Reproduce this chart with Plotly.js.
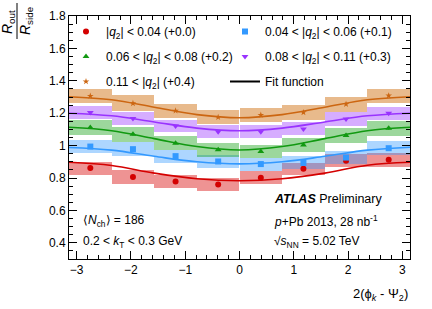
<!DOCTYPE html>
<html>
<head>
<meta charset="utf-8">
<script src="https://cdn.plot.ly/plotly-3.0.1.min.js"></script>
<style>html,body{margin:0;padding:0;background:#fff;}#chart{width:432px;height:309px;}</style>
</head>
<body>
<div id="chart"></div>
<script>
// bin centres of 2(phi_k - Psi_2) (8 bins over [-pi, pi])
const binCenters = [-2.749, -1.963, -1.178, -0.393, 0.393, 1.178, 1.963, 2.749];
const binWidth = 0.785;
// positions where the fit curves were read
const fitX = [-3.1416, -2.356, -1.571, -0.785, 0, 0.785, 1.571, 2.356, 3.1416];

const Q = "|<i>q</i><sub>2</sub>|";
const seriesNames = [
  Q + " < 0.04 (+0.0)",
  "0.04 < " + Q + " < 0.06 (+0.1)",
  "0.06 < " + Q + " < 0.08 (+0.2)",
  "0.08 < " + Q + " < 0.11 (+0.3)",
  "0.11 < " + Q + " (+0.4)"
];
const fitName = "Fit function";

// measured R_out/R_side (with offsets applied)
const valRed    = [0.861, 0.806, 0.779, 0.760, 0.801, 0.857, 0.906, 0.912];
const valBlue   = [0.994, 0.978, 0.935, 0.902, 0.886, 0.893, 0.926, 0.984];
const valGreen  = [1.111, 1.070, 1.015, 0.974, 0.963, 1.004, 1.062, 1.107];
const valPurple = [1.205, 1.168, 1.121, 1.086, 1.086, 1.103, 1.164, 1.199];
const valOrange = [1.306, 1.261, 1.215, 1.175, 1.189, 1.205, 1.256, 1.308];

// statistical errors
const statRed    = [0.014, 0.012, 0.011, 0.011, 0.011, 0.012, 0.013, 0.014];
const statBlue   = [0.009, 0.008, 0.008, 0.008, 0.008, 0.008, 0.008, 0.009];
const statGreen  = [0.007, 0.007, 0.006, 0.006, 0.006, 0.006, 0.007, 0.007];
const statPurple = [0.006, 0.006, 0.006, 0.006, 0.006, 0.006, 0.006, 0.006];
const statOrange = [0.005, 0.005, 0.005, 0.005, 0.005, 0.005, 0.005, 0.005];

// systematic uncertainties (boxes)
const sysRed    = [0.040, 0.044, 0.041, 0.040, 0.040, 0.038, 0.040, 0.042];
const sysBlue   = [0.042, 0.042, 0.040, 0.040, 0.040, 0.040, 0.040, 0.042];
const sysGreen  = [0.046, 0.046, 0.044, 0.042, 0.042, 0.044, 0.046, 0.046];
const sysPurple = [0.042, 0.042, 0.040, 0.040, 0.040, 0.040, 0.042, 0.042];
const sysOrange = [0.044, 0.050, 0.044, 0.042, 0.042, 0.044, 0.046, 0.044];

// fit curves
const fitRed    = [0.897, 0.877, 0.830, 0.795, 0.783, 0.795, 0.830, 0.879, 0.897];
const fitBlue   = [0.988, 0.972, 0.934, 0.900, 0.887, 0.900, 0.934, 0.972, 0.990];
const fitGreen  = [1.113, 1.092, 1.043, 0.994, 0.973, 0.994, 1.043, 1.092, 1.113];
const fitPurple = [1.200, 1.184, 1.146, 1.108, 1.092, 1.108, 1.146, 1.184, 1.200];
const fitOrange = [1.302, 1.283, 1.237, 1.191, 1.172, 1.191, 1.237, 1.283, 1.302];

const values = [valRed, valBlue, valGreen, valPurple, valOrange];
const stats  = [statRed, statBlue, statGreen, statPurple, statOrange];
const syss   = [sysRed, sysBlue, sysGreen, sysPurple, sysOrange];
const fits   = [fitRed, fitBlue, fitGreen, fitPurple, fitOrange];

const lineColors = ["#d40000", "#3399ff", "#119911", "#9933ff", "#cc6611"];
const bandColors = ["rgba(220,30,30,0.48)", "rgba(51,153,255,0.40)", "rgba(20,160,20,0.42)",
                    "rgba(153,51,255,0.40)", "rgba(204,102,0,0.45)"];
const symbols = ["circle", "square", "triangle-up", "triangle-down", "star"];
const sizes = [6, 6, 6, 6, 5];
const legendCol = ["legend", "legend2", "legend", "legend2", "legend"];

const FONT = "Liberation Sans, Arial, Helvetica, sans-serif";
const traces = [];

// systematic boxes
for (let s = 0; s < 5; s++) {
  traces.push({
    type: "bar", x: binCenters,
    y: syss[s].map(v => 2 * v),
    base: values[s].map((v, i) => v - syss[s][i]),
    width: binWidth,
    marker: {color: bandColors[s], line: {width: 0}},
    showlegend: false, hoverinfo: "skip"
  });
}
// fit curves
for (let s = 0; s < 5; s++) {
  traces.push({
    type: "scatter", mode: "lines", x: fitX, y: fits[s],
    line: {color: lineColors[s], width: 1.6, shape: "spline", smoothing: 1},
    showlegend: false, hoverinfo: "skip"
  });
}
// data points
for (let s = 0; s < 5; s++) {
  traces.push({
    type: "scatter", mode: "markers", x: binCenters, y: values[s],
    name: seriesNames[s], legend: legendCol[s], legendgroup: "g" + s,
    marker: {color: lineColors[s], symbol: symbols[s], size: sizes[s], line: {width: 0}},
    error_y: {type: "data", array: stats[s], visible: true, color: lineColors[s], thickness: 1.2, width: 0}
  });
}
// legend entry for fit function
traces.push({
  type: "scatter", mode: "lines", x: [null], y: [null], name: fitName,
  legend: "legend2", legendgroup: "gfit",
  line: {color: "black", width: 2}
});

const W = 432, H = 309, L = 69, R = 22, T = 16, B = 50;
const pw = W - L - R, ph = H - T - B;
const px = x => (x - L) / pw;
const py = y => (H - B - y) / ph;

const legendBase = {
  orientation: "v", xanchor: "left", yanchor: "top",
  bgcolor: "rgba(0,0,0,0)", font: {family: FONT, size: 12, color: "black"},
  traceorder: "grouped", tracegroupgap: 6, itemwidth: 30
};

const layout = {
  width: W, height: H,
  margin: {l: L, r: R, t: T, b: B, pad: 0},
  paper_bgcolor: "white", plot_bgcolor: "white",
  font: {family: FONT, size: 12, color: "black"},
  barmode: "overlay", bargap: 0,
  showlegend: true,
  legend: Object.assign({}, legendBase, {x: px(66), y: py(17)}),
  legend2: Object.assign({}, legendBase, {x: px(225), y: py(17)}),
  xaxis: {
    range: [-Math.PI, Math.PI], showgrid: false, zeroline: false,
    showline: true, linecolor: "black", linewidth: 1, mirror: "allticks",
    ticks: "inside", ticklen: 8, tickcolor: "black", dtick: 1, tick0: 0,
    tickfont: {family: FONT, size: 12},
    minor: {ticks: "inside", ticklen: 4, dtick: 0.2, tick0: 0, tickcolor: "black", showgrid: false}
  },
  yaxis: {
    range: [0.3, 1.8], showgrid: false, zeroline: false,
    showline: true, linecolor: "black", linewidth: 1, mirror: "allticks",
    ticks: "inside", ticklen: 8, tickcolor: "black", dtick: 0.2, tick0: 0,
    tickfont: {family: FONT, size: 12},
    minor: {ticks: "inside", ticklen: 4, dtick: 0.05, tick0: 0, tickcolor: "black", showgrid: false}
  },
  annotations: [
    {xref: "paper", yref: "paper", x: 1, y: py(294), xanchor: "right", yanchor: "middle",
     text: "2(\u03D5<sub><i>k</i></sub> - \u03A8<sub>2</sub>)", showarrow: false, font: {size: 13}},
    {xref: "paper", yref: "paper", x: px(8), y: py(22), xanchor: "center", yanchor: "middle",
     textangle: -90, text: "<i>R</i><sub>out</sub>", showarrow: false, font: {size: 14}},
    {xref: "paper", yref: "paper", x: px(26), y: py(21), xanchor: "center", yanchor: "middle",
     textangle: -90, text: "<i>R</i><sub>side</sub>", showarrow: false, font: {size: 14}},
    {xref: "paper", yref: "paper", x: px(81), y: py(221), xanchor: "left", yanchor: "middle",
     text: "\u27E8<i>N</i><sub>ch</sub>\u27E9 = 186", showarrow: false, font: {size: 12}},
    {xref: "paper", yref: "paper", x: px(81), y: py(242), xanchor: "left", yanchor: "middle",
     text: "0.2 < <i>k</i><sub>T</sub> < 0.3 GeV", showarrow: false, font: {size: 12}},
    {xref: "paper", yref: "paper", x: px(272), y: py(199), xanchor: "left", yanchor: "middle",
     text: "<b><i>ATLAS</i></b> Preliminary", showarrow: false, font: {size: 12.5}},
    {xref: "paper", yref: "paper", x: px(272), y: py(221), xanchor: "left", yanchor: "middle",
     text: "<i>p</i>+Pb 2013, 28 nb<sup>-1</sup>", showarrow: false, font: {size: 12}},
    {xref: "paper", yref: "paper", x: px(272), y: py(242), xanchor: "left", yanchor: "middle",
     text: "\u221A<i>s</i><sub>NN</sub> = 5.02 TeV", showarrow: false, font: {size: 12}}
  ],
  shapes: [
    {type: "line", xref: "paper", yref: "paper", x0: px(17), x1: px(17), y0: py(3), y1: py(39),
     line: {color: "black", width: 1}}
  ]
};

Plotly.newPlot("chart", traces, layout, {displayModeBar: false, staticPlot: true});
</script>
</body>
</html>
